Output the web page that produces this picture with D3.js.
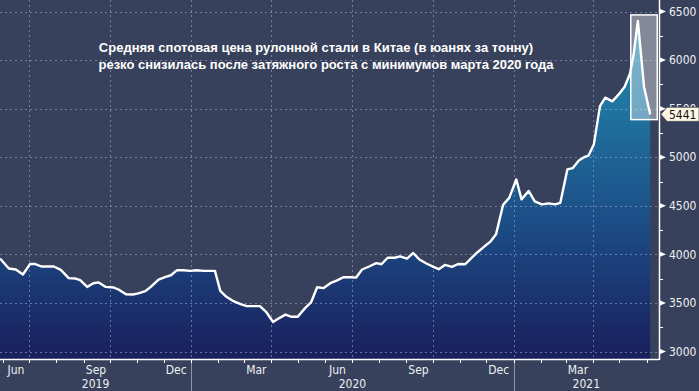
<!DOCTYPE html>
<html>
<head>
<meta charset="utf-8">
<script src="https://cdn.jsdelivr.net/npm/d3@7"></script>
<style>
  html, body { margin: 0; padding: 0; background: #37415b; }
  svg { display: block; }
  .tick-label { font-family: "DejaVu Sans Condensed", "DejaVu Sans", sans-serif; font-size: 12px; fill: #eef0f4; }
  .title { font-family: "Liberation Sans", Arial, sans-serif; font-size: 13px; font-weight: bold; fill: #ffffff; }
</style>
</head>
<body>
<div id="chart"></div>
<script>
// weekly spot price, hot-rolled coil, China (yuan/t)
const dates = [
  "2019-05-29","2019-06-08","2019-06-16","2019-06-24","2019-07-02","2019-07-08","2019-07-15","2019-07-29",
  "2019-08-06","2019-08-15","2019-08-22","2019-08-28","2019-09-05","2019-09-12","2019-09-18","2019-09-26",
  "2019-10-05","2019-10-10","2019-10-19","2019-10-27","2019-11-02","2019-11-10","2019-11-17","2019-11-25",
  "2019-12-03","2019-12-09","2019-12-16","2019-12-23","2019-12-31","2020-01-07","2020-01-15","2020-01-28",
  "2020-02-03","2020-02-10","2020-02-18","2020-02-26","2020-03-04","2020-03-12","2020-03-19","2020-03-26",
  "2020-04-03","2020-04-10","2020-04-17","2020-04-24","2020-05-01","2020-05-09","2020-05-16","2020-05-23",
  "2020-05-30","2020-06-07","2020-06-14","2020-06-22","2020-06-30","2020-07-06","2020-07-13","2020-07-21",
  "2020-07-29","2020-08-04","2020-08-11","2020-08-19","2020-08-25","2020-09-02","2020-09-09","2020-09-16",
  "2020-09-24","2020-10-02","2020-10-08","2020-10-15","2020-10-23","2020-10-30","2020-11-07","2020-11-14",
  "2020-11-21","2020-11-29","2020-12-06","2020-12-12","2020-12-20","2020-12-27","2021-01-04","2021-01-10",
  "2021-01-18","2021-01-25","2021-02-02","2021-02-10","2021-02-17","2021-02-23","2021-03-03","2021-03-09",
  "2021-03-16","2021-03-22","2021-03-27","2021-04-02","2021-04-09","2021-04-15","2021-04-23","2021-04-30",
  "2021-05-07","2021-05-13","2021-05-17","2021-05-22","2021-05-29","2021-06-05"
];
const prices = [
  3957,3854,3844,3793,3900,3900,3875,3875,
  3840,3755,3752,3734,3665,3703,3711,3665,
  3659,3640,3590,3587,3598,3621,3672,3741,
  3768,3785,3837,3837,3830,3837,3830,3830,
  3624,3563,3518,3488,3467,3467,3467,3409,
  3303,3344,3380,3357,3357,3444,3505,3662,
  3652,3703,3729,3765,3765,3760,3844,3875,
  3909,3898,3965,3965,3980,3957,4014,3947,
  3906,3871,3847,3891,3871,3901,3898,3962,
  4022,4083,4134,4206,4509,4581,4771,4566,
  4653,4545,4514,4525,4514,4530,4874,4887,
  4966,5000,5017,5130,5526,5613,5575,5644,
  5726,5859,6044,6403,5726,5441
];
const yTicks = [3000, 3500, 4000, 4500, 5000, 5500, 6000, 6500];
const monthLabels = ["Mar", "Jun", "Sep", "Dec"];
const titleLines = [
  "Средняя спотовая цена рулонной стали в Китае (в юанях за тонну)",
  "резко снизилась после затяжного роста с минимумов марта 2020 года"
];
// highlighted window around the May 2021 peak
const highlightDates = ["2021-05-14", "2021-06-13"];
const highlightRange = [5387, 6465];

const parse = d3.timeParse("%Y-%m-%d");
const data = dates.map((d, i) => ({ date: parse(d), value: prices[i] }));

const width = 699, height = 391;
const innerWidth = 659, innerHeight = 359;

const svg = d3.select("#chart").append("svg")
    .attr("width", width)
    .attr("height", height);

const x = d3.scaleTime()
    .domain([parse("2019-05-29"), parse("2021-06-15")])
    .range([0, innerWidth]);
const y = d3.scaleLinear()
    .domain([3000, 6500])
    .range([351.5, 11.5]);

// background
svg.append("rect")
    .attr("width", width).attr("height", height)
    .attr("fill", "#37415b");

// gradient for the area
const grad = svg.append("defs").append("linearGradient")
    .attr("id", "fillGrad")
    .attr("gradientUnits", "userSpaceOnUse")
    .attr("x1", 0).attr("y1", 0).attr("x2", 0).attr("y2", innerHeight);
grad.append("stop").attr("offset", "0%").attr("stop-color", "#2b92b6");
grad.append("stop").attr("offset", "30%").attr("stop-color", "#1f74a0");
grad.append("stop").attr("offset", "62%").attr("stop-color", "#1c4d86");
grad.append("stop").attr("offset", "100%").attr("stop-color", "#1a1f5d");

const area = d3.area()
    .x(d => x(d.date))
    .y0(innerHeight)
    .y1(d => y(d.value));

svg.append("path")
    .datum(data)
    .attr("d", area)
    .attr("fill", "url(#fillGrad)");

// grid lines
const grid = svg.append("g")
    .attr("stroke", "#a9b2c6")
    .attr("stroke-opacity", 0.55)
    .attr("stroke-dasharray", "2,3")
    .attr("stroke-width", 1);

grid.selectAll(".hgrid")
    .data(yTicks)
  .enter().append("line")
    .attr("x1", 0).attr("x2", innerWidth)
    .attr("y1", d => Math.round(y(d)) + 0.5)
    .attr("y2", d => Math.round(y(d)) + 0.5);

const quarters = d3.timeMonth.every(3).range(x.domain()[0], x.domain()[1]);
grid.selectAll(".vgrid")
    .data(quarters)
  .enter().append("line")
    .attr("y1", 0).attr("y2", innerHeight)
    .attr("x1", d => Math.round(x(d)) + 0.5)
    .attr("x2", d => Math.round(x(d)) + 0.5);

// price line
const line = d3.line()
    .x(d => x(d.date))
    .y(d => y(d.value));

svg.append("path")
    .datum(data)
    .attr("d", line)
    .attr("fill", "none")
    .attr("stroke", "#ffffff")
    .attr("stroke-width", 2.4)
    .attr("stroke-linejoin", "round");

// highlight box
const hx0 = x(parse(highlightDates[0])), hx1 = x(parse(highlightDates[1]));
svg.append("rect")
    .attr("x", hx0)
    .attr("y", y(highlightRange[1]))
    .attr("width", hx1 - hx0)
    .attr("height", y(highlightRange[0]) - y(highlightRange[1]))
    .attr("fill", "#ffffff")
    .attr("fill-opacity", 0.38)
    .attr("stroke", "#ffffff")
    .attr("stroke-width", 1.5);

// title
svg.append("text")
    .attr("class", "title")
    .attr("x", 316).attr("y", 52)
    .attr("text-anchor", "middle")
    .text(titleLines[0]);
svg.append("text")
    .attr("class", "title")
    .attr("x", 326).attr("y", 69)
    .attr("text-anchor", "middle")
    .text(titleLines[1]);

// bottom axis
const xAxis = svg.append("g");
xAxis.append("line")
    .attr("x1", 0).attr("x2", innerWidth)
    .attr("y1", innerHeight + 0.5).attr("y2", innerHeight + 0.5)
    .attr("stroke", "#ffffff").attr("stroke-width", 1.5);

const months = d3.timeMonth.range(x.domain()[0], x.domain()[1]);
xAxis.selectAll(".mtick")
    .data(months)
  .enter().append("line")
    .attr("x1", d => Math.round(x(d)) + 0.5)
    .attr("x2", d => Math.round(x(d)) + 0.5)
    .attr("y1", innerHeight).attr("y2", innerHeight + 4)
    .attr("stroke", "#ffffff");

const fmtMonth = d3.timeFormat("%b");
// label only months whose middle sits well inside the plot
const labelMonths = months.filter(d => monthLabels.includes(fmtMonth(d)) &&
    x(d3.timeDay.offset(d, 14)) < innerWidth - 20);
xAxis.selectAll(".mlabel")
    .data(labelMonths)
  .enter().append("text")
    .attr("class", "tick-label")
    .attr("x", d => Math.max(x(d3.timeDay.offset(d, 14)), 16))
    .attr("y", 374)
    .attr("text-anchor", "middle")
    .text(d => fmtMonth(d));

const years = d3.timeYear.range(d3.timeYear.floor(x.domain()[0]), x.domain()[1]);
xAxis.selectAll(".ysep")
    .data(years.slice(1))
  .enter().append("line")
    .attr("x1", d => Math.round(x(d)) + 0.5)
    .attr("x2", d => Math.round(x(d)) + 0.5)
    .attr("y1", innerHeight + 4).attr("y2", height)
    .attr("stroke", "#8d94a8");

xAxis.selectAll(".ylabel")
    .data(years)
  .enter().append("text")
    .attr("class", "tick-label")
    .attr("x", d => {
      const a = Math.max(x(d), 0);
      const b = Math.min(x(d3.timeYear.offset(d, 1)), innerWidth);
      return (a + b) / 2;
    })
    .attr("y", 388)
    .attr("text-anchor", "middle")
    .text(d => d3.timeFormat("%Y")(d));

// right axis
const yAxis = svg.append("g");
yAxis.append("line")
    .attr("x1", innerWidth + 0.5).attr("x2", innerWidth + 0.5)
    .attr("y1", 0).attr("y2", innerHeight + 1)
    .attr("stroke", "#ffffff").attr("stroke-width", 1.5);

const minorTicks = d3.range(3250, 6500, 500);
yAxis.selectAll(".minor")
    .data(minorTicks)
  .enter().append("line")
    .attr("x1", innerWidth).attr("x2", innerWidth + 4)
    .attr("y1", d => Math.round(y(d)) + 0.5)
    .attr("y2", d => Math.round(y(d)) + 0.5)
    .attr("stroke", "#ffffff");

yAxis.selectAll(".major")
    .data(yTicks)
  .enter().append("path")
    .attr("d", d => {
      const yy = y(d);
      return `M${innerWidth},${yy - 3}L${innerWidth + 7},${yy}L${innerWidth},${yy + 3}Z`;
    })
    .attr("fill", "#ffffff");

yAxis.selectAll(".ylab")
    .data(yTicks)
  .enter().append("text")
    .attr("class", "tick-label")
    .attr("x", innerWidth + 10)
    .attr("y", d => y(d))
    .attr("dy", "0.35em")
    .text(d => d);

// last value tag
const last = data[data.length - 1];
const ly = y(last.value);
svg.append("path")
    .attr("d", `M${innerWidth + 2},${ly}L${innerWidth + 8},${ly - 7}L${width},${ly - 7}L${width},${ly + 7}L${innerWidth + 8},${ly + 7}Z`)
    .attr("fill", "#fdf7e7")
    .attr("stroke", "#555555")
    .attr("stroke-width", 0.8);
svg.append("text")
    .attr("class", "tick-label")
    .attr("x", innerWidth + 10)
    .attr("y", ly)
    .attr("dy", "0.35em")
    .style("fill", "#111111")
    .text(last.value);
</script>
</body>
</html>
